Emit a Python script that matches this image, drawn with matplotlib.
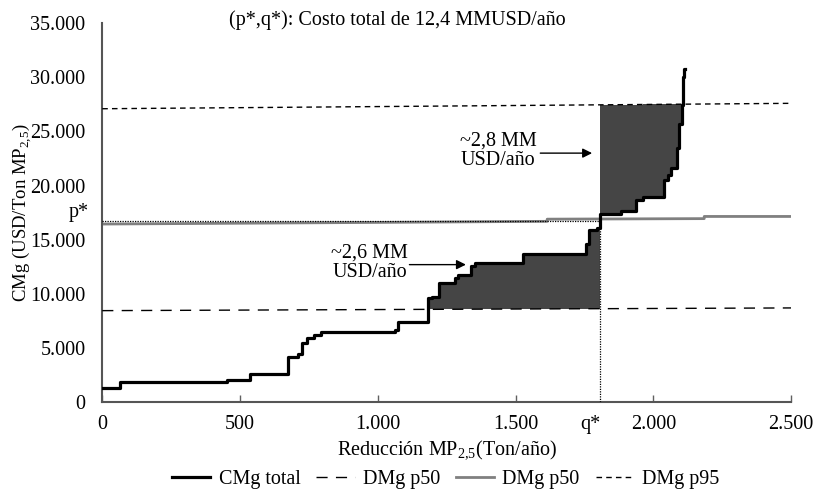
import numpy as np
import matplotlib
matplotlib.use("Agg")
import matplotlib.pyplot as plt

plt.rcParams['font.family'] = ['Liberation Serif', 'DejaVu Serif']
plt.rcParams['mathtext.fontset'] = 'custom'
plt.rcParams['mathtext.rm'] = 'Liberation Serif'
plt.rcParams['font.size'] = 14.5

# curva de costo marginal (escalones, steps-post)
q_cmg = [0, 64, 451, 537, 676, 709, 725, 745, 767, 795, 1064, 1073, 1183, 1197, 1222,
         1280, 1292, 1340, 1353, 1527, 1755, 1766, 1796, 1806, 1882, 1937, 1961, 2040,
         2052, 2064, 2088, 2095, 2104, 2109, 2113, 2116]
cmg = [1270, 1880, 2050, 2600, 4180, 4400, 5420, 5880, 6190, 6450, 6700, 7410, 9580, 9750, 11020,
       11420, 11730, 12560, 12860, 13670, 14650, 15880, 16070, 17420, 17660, 18650, 18960, 20500,
       20960, 21580, 23430, 25730, 27420, 30040, 30810, 30810]

# daño marginal
q_p50 = [0, 2500]
dmg_p50 = [8450, 8700]
q_p50b = [0, 1000, 1615, 1615, 2185, 2185, 2500]
dmg_p50b = [16450, 16600, 16700, 16900, 16950, 17150, 17150]
q_p95 = [0, 2500]
dmg_p95 = [27100, 27600]

q_star = 1806
p_star = 16700

x_ticks = [0, 500, 1000, 1500, 2000, 2500]
x_labels = ['0', '500', '1.000', '1.500', '2.000', '2.500']
y_ticks = [0, 5000, 10000, 15000, 20000, 25000, 30000, 35000]
y_labels = ['0', '5.000', '10.000', '15.000', '20.000', '25.000', '30.000', '35.000']

q = np.array(q_cmg, dtype=float)
c = np.array(cmg, dtype=float)

fig = plt.figure(figsize=(8.18, 4.94), dpi=100)
ax = fig.add_axes([0.125, 0.186, 0.842, 0.767])

# areas sombreadas
m1 = (q >= 1183) & (q < q_star)
r1_q = np.append(q[m1], q_star)
r1_y = np.append(c[m1], c[m1][-1])
ax.fill_between(r1_q, r1_y, np.interp(r1_q, q_p50, dmg_p50), step='post',
                color='#454545', lw=0, zorder=1)
m2 = (q >= q_star) & (c < np.interp(q, q_p95, dmg_p95))
r2_q = np.append(q[m2], q[np.where(m2)[0][-1] + 1])
r2_y = np.append(c[m2], c[m2][-1])
ax.fill_between(r2_q, r2_y, np.interp(r2_q, q_p95, dmg_p95), step='post',
                color='#454545', lw=0, zorder=1)

l1, = ax.plot(q, c, drawstyle='steps-post', color='black', lw=2.3, zorder=4)
l2, = ax.plot(q_p50, dmg_p50, color='black', lw=1.0, dashes=(8, 6), zorder=3)
l3, = ax.plot(q_p50b, dmg_p50b, color='#808080', lw=2.0, zorder=2)
l4, = ax.plot(q_p95, dmg_p95, color='black', lw=1.0, dashes=(4, 3), zorder=3)

# p*, q*
ax.plot([0, q_star], [p_star, p_star], color='black', lw=0.9, ls=(0, (1, 1)), zorder=3)
ax.plot([q_star, q_star], [0, p_star], color='black', lw=0.9, ls=(0, (1, 1)), zorder=3)
ax.text(-50, 17550, 'p*', ha='right', va='center')
ax.text(1772, -2100, 'q*', ha='center', va='center')

ax.annotate('', xy=(1320, 12700), xytext=(1115, 12700),
            arrowprops=dict(arrowstyle='-|>', color='black', lw=1, mutation_scale=14,
                            shrinkA=0, shrinkB=0))
ax.text(970, 12900, '~2,6 MM\nUSD/año', ha='center', va='center', linespacing=1.05)
ax.annotate('', xy=(1778, 23000), xytext=(1590, 23000),
            arrowprops=dict(arrowstyle='-|>', color='black', lw=1, mutation_scale=14,
                            shrinkA=0, shrinkB=0))
ax.text(1437, 23200, '~2,8 MM\nUSD/año', ha='center', va='center', linespacing=1.0)

ax.text(1070, 35300, '(p*,q*): Costo total de 12,4 MMUSD/año', ha='center', va='center')

ax.set_xlim(0, 2500)
ax.set_ylim(0, 35000)
ax.set_xticks(x_ticks)
ax.set_xticklabels(x_labels)
ax.set_yticks(y_ticks)
ax.set_yticklabels(y_labels)
ax.tick_params(axis='x', direction='in', length=5, width=1, color='#606060', pad=9)
ax.tick_params(axis='y', length=0, pad=12)
for s in ['top', 'right']:
    ax.spines[s].set_visible(False)
for s in ['left', 'bottom']:
    ax.spines[s].set_color('#555555')
    ax.spines[s].set_linewidth(1.5)

ax.set_xlabel(r'Reducción MP$_{\mathrm{2{,}5}}$(Ton/año)', labelpad=4)
ax.set_ylabel(r'CMg (USD/Ton MP$_{\mathrm{2{,}5}}$)', fontsize=13.5, labelpad=-3)

fig.legend([l1, l2, l3, l4], ['CMg total', 'DMg p50', 'DMg p50', 'DMg p95'],
           loc='center', bbox_to_anchor=(0.545, 0.03), ncol=4, frameon=False,
           handlelength=1.9, columnspacing=0.8, handletextpad=0.4)

fig.savefig('out.png', dpi=100)
